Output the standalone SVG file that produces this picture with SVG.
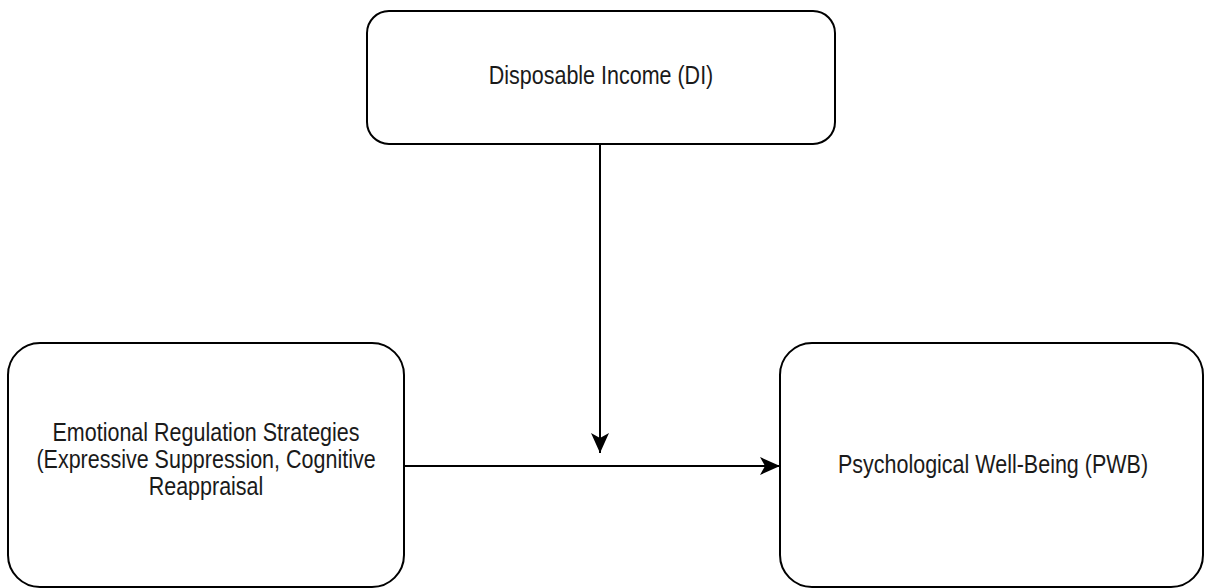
<svg xmlns="http://www.w3.org/2000/svg" width="1206" height="588" viewBox="0 0 1206 588">
  <style>
    .box { fill: #ffffff; stroke: #000000; stroke-width: 2; }
    .lbl { font-family: "Liberation Sans", Arial, sans-serif; font-size: 21.5px; fill: #1a1a1a; text-anchor: middle; }
    .edge { fill: none; stroke: #000000; stroke-width: 2; }
  </style>
  <defs>
    <marker id="arrow" markerUnits="userSpaceOnUse" markerWidth="20" markerHeight="18" refX="20" refY="9" orient="auto">
      <path d="M0,0 L20,9 L0,18 L5,9 Z" fill="#000000"/>
    </marker>
  </defs>
  <rect width="1206" height="588" fill="#ffffff"/>
  <g id="connectors">
    <line class="edge" x1="600" y1="144" x2="600" y2="453" marker-end="url(#arrow)"/>
    <line class="edge" x1="404" y1="466" x2="780" y2="466" marker-end="url(#arrow)"/>
  </g>
  <g id="node-di">
    <rect class="box" x="367" y="11" width="468" height="133" rx="22" ry="22"/>
    <text class="lbl" transform="translate(601,84) scale(1,1.2)">Disposable Income (DI)</text>
  </g>
  <g id="node-ers">
    <rect class="box" x="8" y="343" width="396" height="244" rx="32" ry="32"/>
    <text class="lbl" transform="translate(206,441) scale(1,1.2)">Emotional Regulation Strategies</text>
    <text class="lbl" transform="translate(206,468) scale(1,1.2)">(Expressive Suppression, Cognitive</text>
    <text class="lbl" transform="translate(206,495) scale(1,1.2)">Reappraisal</text>
  </g>
  <g id="node-pwb">
    <rect class="box" x="780" y="343" width="423" height="244" rx="32" ry="32"/>
    <text class="lbl" transform="translate(993,473) scale(1,1.2)">Psychological Well-Being (PWB)</text>
  </g>
</svg>
